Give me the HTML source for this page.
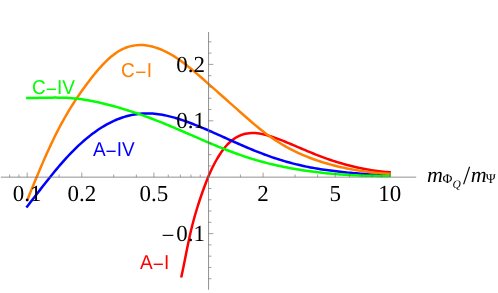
<!DOCTYPE html>
<html><head><meta charset="utf-8"><title>plot</title>
<style>html,body{margin:0;padding:0;background:#fff;}body{width:498px;height:293px;overflow:hidden;position:relative;font-family:"Liberation Sans",sans-serif;}</style>
</head><body>
<svg width="498" height="293" viewBox="0 0 498 293" style="position:absolute;left:0;top:0;text-rendering:geometricPrecision;will-change:transform">
<path d="M181.19,277.50 L181.64,275.50 L182.07,273.50 L182.50,271.50 L182.91,269.50 L183.33,267.50 L183.74,265.50 L184.14,263.50 L184.54,261.50 L184.94,259.50 L185.33,257.50 L185.73,255.50 L186.13,253.50 L186.52,251.50 L186.93,249.50 L187.33,247.50 L187.74,245.50 L188.15,243.50 L188.57,241.50 L188.99,239.50 L189.43,237.50 L189.87,235.50 L190.32,233.50 L190.78,231.50 L191.26,229.50 L191.75,227.50 L192.25,225.50 L192.76,223.50 L193.29,221.50 L193.83,219.50 L194.38,217.50 L194.94,215.50 L195.52,213.50 L196.11,211.50 L196.71,209.50 L197.33,207.50 L197.95,205.50 L198.59,203.50 L199.24,201.50 L199.90,199.50 L200.58,197.50 L201.26,195.50 L201.96,193.50 L202.67,191.50 L203.38,189.50 L204.11,187.50 L204.85,185.50 L205.61,183.50 L206.38,181.50 L207.17,179.50 L207.98,177.50 L208.81,175.50 L209.68,173.50 L210.57,171.50 L211.50,169.50 L212.46,167.50 L213.47,165.50 L214.51,163.50 L215.59,161.50 L216.73,159.50 L217.91,157.50 L219.15,155.50 L220.44,153.50 L221.24,152.14 L223.24,149.42 L225.24,146.96 L227.24,144.73 L229.24,142.74 L231.24,140.96 L233.24,139.39 L235.24,138.02 L237.24,136.84 L239.24,135.84 L241.24,135.00 L243.24,134.32 L245.24,133.79 L247.24,133.40 L249.24,133.14 L251.24,133.01 L253.24,132.99 L255.24,133.07 L257.24,133.26 L259.24,133.53 L261.24,133.88 L263.24,134.30 L265.24,134.79 L267.24,135.34 L269.24,135.93 L271.24,136.56 L273.24,137.22 L275.24,137.91 L277.24,138.63 L279.24,139.37 L281.24,140.14 L283.24,140.93 L285.24,141.73 L287.24,142.55 L289.24,143.39 L291.24,144.23 L293.24,145.08 L295.24,145.93 L297.24,146.79 L299.24,147.64 L301.24,148.49 L303.24,149.34 L305.24,150.19 L307.24,151.03 L309.24,151.86 L311.24,152.68 L313.24,153.50 L315.24,154.30 L317.24,155.09 L319.24,155.87 L321.24,156.63 L323.24,157.38 L325.24,158.11 L327.24,158.82 L329.24,159.52 L331.24,160.19 L333.24,160.85 L335.24,161.49 L337.24,162.11 L339.24,162.72 L341.24,163.30 L343.24,163.88 L345.24,164.43 L347.24,164.97 L349.24,165.49 L351.24,165.99 L353.24,166.48 L355.24,166.95 L357.24,167.41 L359.24,167.85 L361.24,168.28 L363.24,168.68 L365.24,169.07 L367.24,169.45 L369.24,169.80 L371.24,170.13 L373.24,170.45 L375.24,170.74 L377.24,171.01 L379.24,171.27 L381.24,171.50 L383.24,171.70 L385.24,171.89 L387.24,172.05 L389.24,172.19 L390.90,172.29" stroke="#ff0000" stroke-width="2.5" fill="none" stroke-linejoin="round"/>
<path d="M26.40,207.51 L28.40,204.93 L30.40,202.33 L32.40,199.74 L34.40,197.14 L36.40,194.55 L38.40,191.96 L40.40,189.38 L42.40,186.81 L44.40,184.25 L46.40,181.71 L48.40,179.19 L50.40,176.69 L52.40,174.22 L54.40,171.78 L56.40,169.37 L58.40,166.99 L60.40,164.65 L62.40,162.35 L64.40,160.10 L66.40,157.89 L68.40,155.74 L70.40,153.63 L72.40,151.57 L74.40,149.57 L76.40,147.61 L78.40,145.71 L80.40,143.86 L82.40,142.06 L84.40,140.31 L86.40,138.62 L88.40,136.98 L90.40,135.39 L92.40,133.86 L94.40,132.38 L96.40,130.95 L98.40,129.58 L100.40,128.27 L102.40,127.01 L104.40,125.81 L106.40,124.66 L108.40,123.57 L110.40,122.54 L112.40,121.56 L114.40,120.64 L116.40,119.77 L118.40,118.96 L120.40,118.21 L122.40,117.51 L124.40,116.87 L126.40,116.28 L128.40,115.75 L130.40,115.27 L132.40,114.85 L134.40,114.48 L136.40,114.16 L138.40,113.91 L140.40,113.70 L142.40,113.55 L144.40,113.45 L146.40,113.41 L148.40,113.42 L150.40,113.48 L152.40,113.59 L154.40,113.75 L156.40,113.96 L158.40,114.22 L160.40,114.51 L162.40,114.85 L164.40,115.23 L166.40,115.65 L168.40,116.10 L170.40,116.59 L172.40,117.11 L174.40,117.66 L176.40,118.24 L178.40,118.85 L180.40,119.49 L182.40,120.15 L184.40,120.84 L186.40,121.54 L188.40,122.27 L190.40,123.02 L192.40,123.78 L194.40,124.56 L196.40,125.35 L198.40,126.16 L200.40,126.98 L202.40,127.81 L204.40,128.66 L206.40,129.52 L208.40,130.38 L210.40,131.25 L212.40,132.13 L214.40,133.02 L216.40,133.91 L218.40,134.81 L220.40,135.70 L222.40,136.60 L224.40,137.50 L226.40,138.41 L228.40,139.31 L230.40,140.20 L232.40,141.10 L234.40,141.99 L236.40,142.88 L238.40,143.76 L240.40,144.64 L242.40,145.51 L244.40,146.37 L246.40,147.23 L248.40,148.07 L250.40,148.91 L252.40,149.74 L254.40,150.56 L256.40,151.36 L258.40,152.16 L260.40,152.94 L262.40,153.70 L264.40,154.46 L266.40,155.19 L268.40,155.91 L270.40,156.62 L272.40,157.31 L274.40,157.98 L276.40,158.64 L278.40,159.28 L280.40,159.91 L282.40,160.52 L284.40,161.11 L286.40,161.69 L288.40,162.26 L290.40,162.80 L292.40,163.34 L294.40,163.85 L296.40,164.35 L298.40,164.83 L300.40,165.30 L302.40,165.76 L304.40,166.19 L306.40,166.61 L308.40,167.02 L310.40,167.41 L312.40,167.78 L314.40,168.14 L316.40,168.49 L318.40,168.83 L320.40,169.15 L322.40,169.46 L324.40,169.76 L326.40,170.04 L328.40,170.32 L330.40,170.59 L332.40,170.84 L334.40,171.09 L336.40,171.33 L338.40,171.57 L340.40,171.79 L342.40,172.01 L344.40,172.22 L346.40,172.43 L348.40,172.63 L350.40,172.82 L352.40,173.01 L354.40,173.20 L356.40,173.37 L358.40,173.54 L360.40,173.70 L362.40,173.86 L364.40,174.00 L366.40,174.14 L368.40,174.27 L370.40,174.39 L372.40,174.49 L374.40,174.59 L376.40,174.68 L378.40,174.75 L380.40,174.82 L382.40,174.87 L384.40,174.91 L386.40,174.94 L388.40,174.95 L390.40,174.95 L390.90,174.95" stroke="#0000ff" stroke-width="2.5" fill="none" stroke-linejoin="round"/>
<path d="M27.00,200.83 L29.00,195.84 L31.00,190.88 L33.00,185.95 L35.00,181.07 L37.00,176.25 L39.00,171.47 L41.00,166.76 L43.00,162.12 L45.00,157.56 L47.00,153.07 L49.00,148.68 L51.00,144.37 L53.00,140.17 L55.00,136.07 L57.00,132.08 L59.00,128.21 L61.00,124.44 L63.00,120.79 L65.00,117.24 L67.00,113.80 L69.00,110.44 L71.00,107.18 L73.00,104.00 L75.00,100.90 L77.00,97.88 L79.00,94.94 L81.00,92.06 L83.00,89.24 L85.00,86.48 L87.00,83.78 L89.00,81.13 L91.00,78.53 L93.00,75.99 L95.00,73.52 L97.00,71.12 L99.00,68.80 L101.00,66.56 L103.00,64.41 L105.00,62.35 L107.00,60.39 L109.00,58.54 L111.00,56.80 L113.00,55.17 L115.00,53.66 L117.00,52.28 L119.00,51.03 L121.00,49.91 L123.00,48.91 L125.00,48.04 L127.00,47.28 L129.00,46.64 L131.00,46.11 L133.00,45.69 L135.00,45.38 L137.00,45.17 L139.00,45.05 L141.00,45.04 L143.00,45.11 L145.00,45.27 L147.00,45.53 L149.00,45.86 L151.00,46.27 L153.00,46.77 L155.00,47.34 L157.00,47.99 L159.00,48.71 L161.00,49.50 L163.00,50.36 L165.00,51.30 L167.00,52.30 L169.00,53.36 L171.00,54.49 L173.00,55.68 L175.00,56.93 L177.00,58.24 L179.00,59.61 L181.00,61.02 L183.00,62.49 L185.00,64.00 L187.00,65.56 L189.00,67.15 L191.00,68.78 L193.00,70.44 L195.00,72.12 L197.00,73.83 L199.00,75.56 L201.00,77.30 L203.00,79.06 L205.00,80.82 L207.00,82.59 L209.00,84.36 L211.00,86.12 L213.00,87.89 L215.00,89.66 L217.00,91.43 L219.00,93.20 L221.00,94.98 L223.00,96.75 L225.00,98.52 L227.00,100.30 L229.00,102.07 L231.00,103.85 L233.00,105.62 L235.00,107.40 L237.00,109.18 L239.00,110.96 L241.00,112.73 L243.00,114.51 L245.00,116.27 L247.00,118.03 L249.00,119.77 L251.00,121.49 L253.00,123.20 L255.00,124.88 L257.00,126.54 L259.00,128.18 L261.00,129.78 L263.00,131.35 L265.00,132.89 L267.00,134.39 L269.00,135.84 L271.00,137.26 L273.00,138.63 L275.00,139.97 L277.00,141.27 L279.00,142.53 L281.00,143.76 L283.00,144.95 L285.00,146.10 L287.00,147.22 L289.00,148.31 L291.00,149.36 L293.00,150.38 L295.00,151.37 L297.00,152.33 L299.00,153.26 L301.00,154.15 L303.00,155.03 L305.00,155.87 L307.00,156.69 L309.00,157.48 L311.00,158.24 L313.00,158.98 L315.00,159.70 L317.00,160.39 L319.00,161.06 L321.00,161.71 L323.00,162.34 L325.00,162.95 L327.00,163.54 L329.00,164.11 L331.00,164.66 L333.00,165.20 L335.00,165.72 L337.00,166.22 L339.00,166.70 L341.00,167.16 L343.00,167.61 L345.00,168.05 L347.00,168.46 L349.00,168.86 L351.00,169.25 L353.00,169.62 L355.00,169.97 L357.00,170.31 L359.00,170.64 L361.00,170.95 L363.00,171.24 L365.00,171.53 L367.00,171.79 L369.00,172.04 L371.00,172.28 L373.00,172.50 L375.00,172.71 L377.00,172.91 L379.00,173.09 L381.00,173.25 L383.00,173.40 L385.00,173.54 L387.00,173.66 L389.00,173.76 L390.90,173.85" stroke="#ff7f00" stroke-width="2.5" fill="none" stroke-linejoin="round"/>
<path d="M26.10,98.10 L28.10,98.09 L30.10,98.06 L32.10,98.03 L34.10,97.99 L36.10,97.95 L38.10,97.91 L40.10,97.86 L42.10,97.81 L44.10,97.77 L46.10,97.72 L48.10,97.69 L50.10,97.66 L52.10,97.63 L54.10,97.62 L56.10,97.62 L58.10,97.63 L60.10,97.66 L62.10,97.70 L64.10,97.77 L66.10,97.85 L68.10,97.95 L70.10,98.08 L72.10,98.23 L74.10,98.41 L76.10,98.61 L78.10,98.84 L80.10,99.09 L82.10,99.36 L84.10,99.66 L86.10,99.97 L88.10,100.31 L90.10,100.67 L92.10,101.04 L94.10,101.44 L96.10,101.85 L98.10,102.28 L100.10,102.73 L102.10,103.20 L104.10,103.68 L106.10,104.17 L108.10,104.68 L110.10,105.20 L112.10,105.74 L114.10,106.29 L116.10,106.85 L118.10,107.42 L120.10,108.00 L122.10,108.60 L124.10,109.20 L126.10,109.82 L128.10,110.45 L130.10,111.08 L132.10,111.73 L134.10,112.39 L136.10,113.06 L138.10,113.74 L140.10,114.43 L142.10,115.13 L144.10,115.84 L146.10,116.56 L148.10,117.29 L150.10,118.03 L152.10,118.78 L154.10,119.55 L156.10,120.32 L158.10,121.10 L160.10,121.89 L162.10,122.69 L164.10,123.50 L166.10,124.32 L168.10,125.15 L170.10,125.99 L172.10,126.83 L174.10,127.68 L176.10,128.53 L178.10,129.39 L180.10,130.25 L182.10,131.12 L184.10,131.98 L186.10,132.86 L188.10,133.73 L190.10,134.60 L192.10,135.48 L194.10,136.35 L196.10,137.22 L198.10,138.09 L200.10,138.96 L202.10,139.82 L204.10,140.68 L206.10,141.54 L208.10,142.39 L210.10,143.24 L212.10,144.08 L214.10,144.91 L216.10,145.74 L218.10,146.55 L220.10,147.37 L222.10,148.17 L224.10,148.96 L226.10,149.75 L228.10,150.52 L230.10,151.29 L232.10,152.04 L234.10,152.78 L236.10,153.52 L238.10,154.23 L240.10,154.94 L242.10,155.64 L244.10,156.32 L246.10,156.98 L248.10,157.64 L250.10,158.27 L252.10,158.90 L254.10,159.50 L256.10,160.10 L258.10,160.67 L260.10,161.24 L262.10,161.79 L264.10,162.32 L266.10,162.84 L268.10,163.35 L270.10,163.84 L272.10,164.32 L274.10,164.79 L276.10,165.25 L278.10,165.69 L280.10,166.12 L282.10,166.54 L284.10,166.95 L286.10,167.35 L288.10,167.73 L290.10,168.11 L292.10,168.47 L294.10,168.83 L296.10,169.17 L298.10,169.51 L300.10,169.83 L302.10,170.15 L304.10,170.45 L306.10,170.75 L308.10,171.04 L310.10,171.31 L312.10,171.58 L314.10,171.84 L316.10,172.09 L318.10,172.33 L320.10,172.57 L322.10,172.79 L324.10,173.01 L326.10,173.21 L328.10,173.41 L330.10,173.60 L332.10,173.78 L334.10,173.96 L336.10,174.12 L338.10,174.28 L340.10,174.43 L342.10,174.57 L344.10,174.70 L346.10,174.83 L348.10,174.94 L350.10,175.05 L352.10,175.16 L354.10,175.25 L356.10,175.34 L358.10,175.42 L360.10,175.50 L362.10,175.56 L364.10,175.63 L366.10,175.68 L368.10,175.73 L370.10,175.77 L372.10,175.81 L374.10,175.84 L376.10,175.86 L378.10,175.88 L380.10,175.89 L382.10,175.90 L384.10,175.90 L386.10,175.90 L388.10,175.89 L390.10,175.87 L390.90,175.87" stroke="#00ff00" stroke-width="2.5" fill="none" stroke-linejoin="round"/>
<g stroke="#6c6c6c" stroke-width="0.75" fill="none">
<path d="M0.8,177.15 H416.2"/>
<path d="M208.55,32 V289.8"/>
<path d="M27.20,177.15 v-4.6 M81.78,177.15 v-4.6 M153.92,177.15 v-4.6 M263.08,177.15 v-4.6 M335.22,177.15 v-4.6 M389.80,177.15 v-4.6 M9.63,177.15 v-2.6 M18.90,177.15 v-2.6 M59.13,177.15 v-2.6 M113.70,177.15 v-2.6 M136.35,177.15 v-2.6 M168.28,177.15 v-2.6 M180.42,177.15 v-2.6 M190.93,177.15 v-2.6 M200.20,177.15 v-2.6 M240.43,177.15 v-2.6 M295.00,177.15 v-2.6 M317.65,177.15 v-2.6 M349.58,177.15 v-2.6 M361.72,177.15 v-2.6 M372.23,177.15 v-2.6 M381.50,177.15 v-2.6 M208.55,278.72 h2.9 M208.55,267.44 h2.9 M208.55,256.16 h2.9 M208.55,244.88 h2.9 M208.55,233.60 h4.8 M208.55,222.32 h2.9 M208.55,211.04 h2.9 M208.55,199.76 h2.9 M208.55,188.48 h2.9 M208.55,165.92 h2.9 M208.55,154.64 h2.9 M208.55,143.36 h2.9 M208.55,132.08 h2.9 M208.55,120.80 h4.8 M208.55,109.52 h2.9 M208.55,98.24 h2.9 M208.55,86.96 h2.9 M208.55,75.68 h2.9 M208.55,64.40 h4.8 M208.55,53.12 h2.9 M208.55,41.84 h2.9 " stroke-opacity="0.85"/>
</g>
<g style="font-family:&quot;Liberation Serif&quot;,serif" font-size="22" fill="#000">
<text transform="translate(27.2,200.6) scale(1.045,1.045)" text-anchor="middle">0.1</text>
<text transform="translate(81.8,200.6) scale(1.045,1.045)" text-anchor="middle">0.2</text>
<text transform="translate(153.9,200.6) scale(1.045,1.045)" text-anchor="middle">0.5</text>
<text transform="translate(263.1,200.6) scale(1.045,1.045)" text-anchor="middle">2</text>
<text transform="translate(335.2,200.6) scale(1.045,1.045)" text-anchor="middle">5</text>
<text transform="translate(389.8,200.6) scale(1.045,1.045)" text-anchor="middle">10</text>
<text transform="translate(204.9,71.7) scale(1.045,1.045)" text-anchor="end">0.2</text>
<text transform="translate(204.9,128.1) scale(1.045,1.045)" text-anchor="end">0.1</text>
<text transform="translate(204.9,240.9) scale(1.045,1.045)" text-anchor="end">0.1</text>
<text transform="translate(161.5,242.5) scale(1.045,1.045)">−</text>
</g>
<g style="font-family:&quot;Liberation Sans&quot;,sans-serif" font-size="19">
<text transform="translate(120.9,76.7) scale(1,1.06)" fill="#ff7f00">C<tspan dx="0.5" dy="1.9">−</tspan><tspan dx="0.4" dy="-1.9">I</tspan></text>
<text transform="translate(32.1,93.6) scale(1,1.06)" fill="#00ff00">C<tspan dy="1.9">−</tspan><tspan dy="-1.9">IV</tspan></text>
<text transform="translate(92.9,156.0) scale(1,1.06)" fill="#0000ff">A<tspan dy="1.9">−</tspan><tspan dy="-1.9">IV</tspan></text>
<text transform="translate(140.1,269.4) scale(1,1.06)" fill="#ff0000">A<tspan dy="1.9">−</tspan><tspan dy="-1.9">I</tspan></text>
</g>
<g style="font-family:&quot;Liberation Serif&quot;,serif" fill="#000">
<text x="427" y="181.5" font-size="22" font-style="italic">m</text>
<text x="442.4" y="183.4" font-size="13.5">Φ</text>
<text x="452.5" y="188.2" font-size="11.5" font-style="italic">Q</text>
<text x="463.1" y="183.9" font-size="26">/</text>
<text x="470.7" y="181.5" font-size="22" font-style="italic">m</text>
<text x="485.8" y="183.4" font-size="13.5">Ψ</text>
</g>
</svg>
</body></html>
